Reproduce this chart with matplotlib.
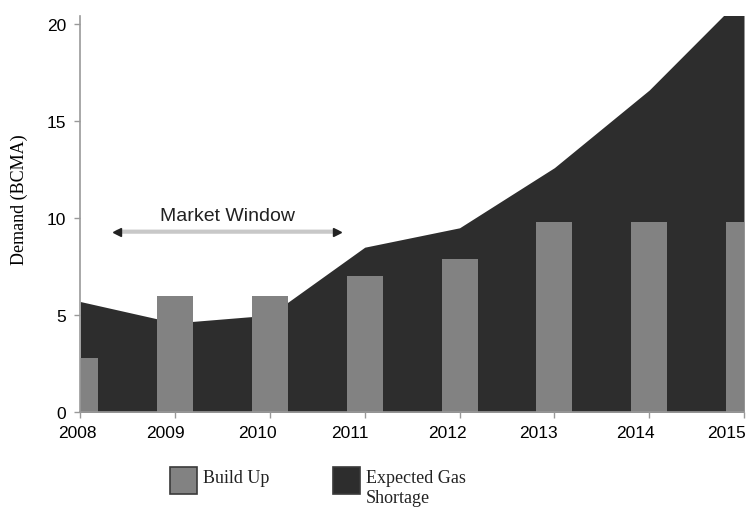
import numpy as np
import matplotlib.pyplot as plt
from matplotlib.patches import Rectangle
from matplotlib.transforms import ScaledTranslation

years = ['2008', '2009', '2010', '2011', '2012', '2013', '2014', '2015']
build_up = [2.8, 6.0, 6.0, 7.0, 7.9, 9.8, 9.8, 9.8]
gas_demand = [5.7, 4.6, 5.0, 8.5, 9.5, 12.6, 16.6, 21.5]

window_start = 0.39
window_end = 2.71
window_level = 9.3

legend_labels = ['Build Up', 'Expected Gas\nShortage']

dark = '#2d2d2d'
grey = '#828282'

fig = plt.figure(figsize=(7.5, 5.1), dpi=100)
ax = fig.add_axes([0.107, 0.19, 0.885, 0.776])

x = np.arange(len(years))
ax.fill_between(x, 0, gas_demand, color=dark, lw=0, zorder=1)
ax.bar(x, build_up, width=0.38, color=grey, lw=0, zorder=2)

ax.set_xlim(0, 7)
ax.set_ylim(0, 20.4)
ax.set_xticks(x)
ax.set_xticklabels(years, family='Liberation Sans', fontsize=12.5)
ax.set_yticks([0, 5, 10, 15, 20])
ax.set_yticklabels(['0', '5', '10', '15', '20'], family='Liberation Sans', fontsize=12.5)
ax.tick_params(axis='both', color='#999999', length=4, width=1, pad=6)
ax.tick_params(axis='x', pad=5)

# year labels in the original sit a little left of their ticks
shifts = [-3, -10, -12, -15, -12, -16, -14, -17]
for lab, dx in zip(ax.get_xticklabels(), shifts):
    lab.set_transform(lab.get_transform() + ScaledTranslation(dx / 100, 0, fig.dpi_scale_trans))

for side in ['top', 'right']:
    ax.spines[side].set_visible(False)
for side in ['left', 'bottom']:
    ax.spines[side].set_color('#999999')
    ax.spines[side].set_linewidth(1.2)

ax.set_ylabel('Demand (BCMA)', family='Liberation Serif', fontsize=13)
ax.yaxis.set_label_coords(-0.079, 0.54)

# market window arrow
ax.annotate('', xy=(window_start, window_level), xytext=(window_end, window_level),
            arrowprops=dict(arrowstyle='-', color='#c8c8c8', lw=3,
                            shrinkA=0, shrinkB=0), zorder=3)
for xe, m in [(window_start, '<'), (window_end, '>')]:
    ax.plot(xe, window_level, marker=m, color='#222222', ms=6, zorder=4)
ax.text((window_start + window_end) / 2, window_level + 0.4, 'Market Window',
        ha='center', va='bottom', family='Liberation Sans', fontsize=14, color='#222222')

# legend below the chart
for lx, col, lab in zip([0.227, 0.444], [grey, dark], legend_labels):
    fig.add_artist(Rectangle((lx, 0.029), 0.036, 0.053, transform=fig.transFigure,
                             facecolor=col, edgecolor='#3a3a3a', lw=1.2))
    fig.text(lx + 0.044, 0.079, lab, ha='left', va='top',
             family='Liberation Serif', fontsize=13, color='#222222',
             linespacing=1.22, transform=fig.transFigure)

fig.savefig('out.png', dpi=100)
